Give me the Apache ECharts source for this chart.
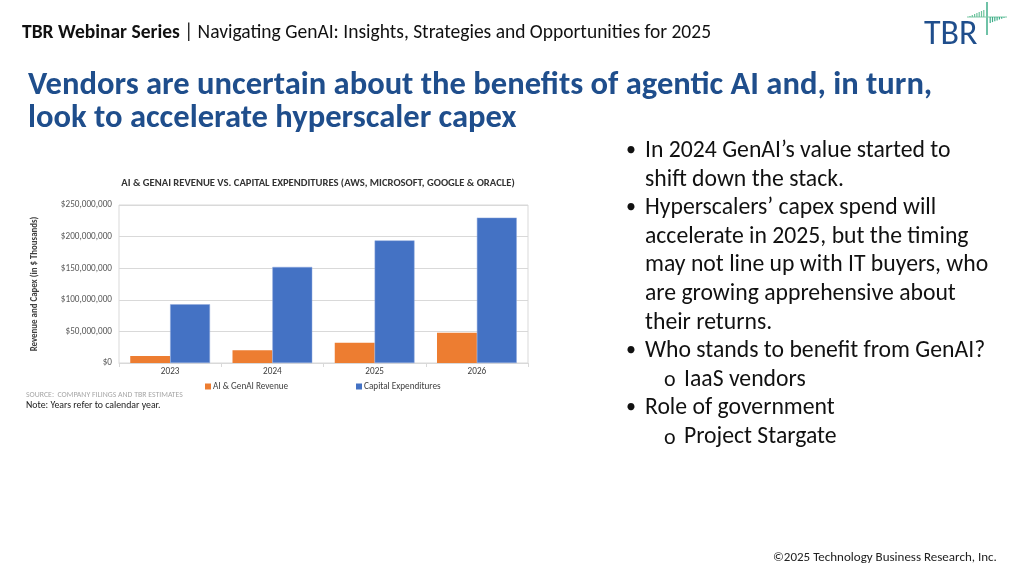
<!DOCTYPE html>
<html>
<head>
<meta charset="utf-8">
<script src="https://cdn.jsdelivr.net/npm/echarts@6/dist/echarts.min.js"></script>
<style>
html,body{margin:0;padding:0;background:#fff;}
#c{width:1030px;height:579px;}
</style>
</head>
<body>
<div id="c"></div>
<script>
const categories = ['2023', '2024', '2025', '2026'];
const revenue = [11000000, 20000000, 32000000, 48000000];
const capex = [93000000, 152000000, 194000000, 230000000];
const seriesNames = ['AI & GenAI Revenue', 'Capital Expenditures'];
const chartTitle = 'AI & GENAI REVENUE VS. CAPITAL EXPENDITURES (AWS, MICROSOFT, GOOGLE & ORACLE)';
const yAxisName = 'Revenue and Capex (in $ Thousands)';
const bullets = [
  {lvl: 1, lines: ['In 2024 GenAI\u2019s value started to', 'shift down the stack.']},
  {lvl: 1, lines: ['Hyperscalers\u2019 capex spend will', 'accelerate in 2025, but the timing', 'may not line up with IT buyers, who', 'are growing apprehensive about', 'their returns.']},
  {lvl: 1, lines: ['Who stands to benefit from GenAI?']},
  {lvl: 2, lines: ['IaaS vendors']},
  {lvl: 1, lines: ['Role of government']},
  {lvl: 2, lines: ['Project Stargate']}
];

const F = "Carlito, 'Liberation Sans Narrow', 'DejaVu Sans Condensed', 'Noto Sans', sans-serif";
const blue = '#1F4E8C';

const g = [];
// header
g.push({type: 'text', x: 22, y: 33, style: {
  text: '{b|TBR Webinar Series} | Navigating GenAI: Insights, Strategies and Opportunities for 2025',
  font: '19.5px ' + F, fill: '#111', textVerticalAlign: 'middle',
  rich: {b: {fontWeight: 'bold', fontSize: 19.5, fontFamily: F, fill: '#111'}}
}});
// logo
g.push({type: 'text', x: 924, y: 35, style: {text: 'TBR', font: '34px ' + F, fill: blue, textVerticalAlign: 'middle'}});
g.push({type: 'line', shape: {x1: 987, y1: 2, x2: 987, y2: 35}, style: {stroke: '#3fae8a', lineWidth: 1.5}});
g.push({type: 'line', shape: {x1: 967, y1: 17, x2: 1007, y2: 17}, style: {stroke: '#7fcaa8', lineWidth: 1}});
const lh = [1, 2, 3, 4, 5, 6, 7];
lh.forEach((h, i) => {
  g.push({type: 'line', shape: {x1: 970 + i * 2.3, y1: 17, x2: 970 + i * 2.3, y2: 17 - h}, style: {stroke: '#6cc29c', lineWidth: 1.2}});
  g.push({type: 'line', shape: {x1: 1004 - i * 2.3, y1: 17, x2: 1004 - i * 2.3, y2: 17 + h * 0.85}, style: {stroke: '#3fae8a', lineWidth: 1.2}});
});
// title
g.push({type: 'text', x: 28, y: 86, style: {text: 'Vendors are uncertain about the benefits of agentic AI and, in turn,', font: 'bold 32.6px ' + F, fill: blue, textVerticalAlign: 'middle'}});
g.push({type: 'text', x: 28, y: 119, style: {text: 'look to accelerate hyperscaler capex', font: 'bold 32.6px ' + F, fill: blue, textVerticalAlign: 'middle'}});
// bullets
let y = 151;
bullets.forEach(b => {
  b.lines.forEach((ln, i) => {
    if (i === 0) {
      if (b.lvl === 1) {
        g.push({type: 'text', x: 626, y: y, style: {text: '\u2022', font: '20px ' + F, fill: '#111', textVerticalAlign: 'middle'}});
      } else {
        g.push({type: 'text', x: 664, y: y + 1, style: {text: 'o', font: '22px ' + F, fill: '#111', textVerticalAlign: 'middle'}});
      }
    }
    g.push({type: 'text', x: b.lvl === 1 ? 645 : 684, y: y, style: {text: ln, font: '23.7px ' + F, fill: '#111', textVerticalAlign: 'middle'}});
    y += 28.6;
  });
});
// source & note
g.push({type: 'text', x: 26, y: 395, style: {text: 'SOURCE:  COMPANY FILINGS AND TBR ESTIMATES', font: '7.8px ' + F, fill: '#a6a6a6', textVerticalAlign: 'middle'}});
g.push({type: 'text', x: 26, y: 406, style: {text: 'Note: Years refer to calendar year.', font: '9.8px ' + F, fill: '#222', textVerticalAlign: 'middle'}});
// copyright
g.push({type: 'text', x: 773, y: 558, style: {text: '\u00A92025 Technology Business Research, Inc.', font: '13px ' + F, fill: '#222', textVerticalAlign: 'middle'}});
// chart title
g.push({type: 'text', x: 318, y: 183, style: {text: chartTitle, font: 'bold 10.6px ' + F, fill: '#333', textAlign: 'center', textVerticalAlign: 'middle'}});

const chart = echarts.init(document.getElementById('c'), null, {renderer: 'canvas'});
chart.setOption({
  animation: false,
  textStyle: {fontFamily: F},
  grid: {left: 119, top: 205, right: 502, bottom: 216, show: true, borderColor: '#d9d9d9', borderWidth: 1},
  legend: [
    {data: [seriesNames[0]], left: 200, top: 377, itemWidth: 6, itemHeight: 6, itemGap: 4, icon: 'rect',
     itemStyle: {borderWidth: 0},
     textStyle: {fontSize: 9.2, color: '#404040', fontFamily: F, padding: [0, 0, 0, -3]}},
    {data: [seriesNames[1]], left: 351, top: 377, itemWidth: 6, itemHeight: 6, itemGap: 4, icon: 'rect',
     itemStyle: {borderWidth: 0},
     textStyle: {fontSize: 9.2, color: '#404040', fontFamily: F, padding: [0, 0, 0, -3]}}
  ],
  xAxis: {
    type: 'category', data: categories,
    axisLine: {lineStyle: {color: '#d9d9d9'}},
    axisTick: {show: true, alignWithLabel: false, length: 4, lineStyle: {color: '#d9d9d9'}},
    axisLabel: {fontSize: 9.2, color: '#404040', margin: 4, fontFamily: F}
  },
  yAxis: {
    type: 'value', min: 0, max: 250000000, interval: 50000000,
    name: yAxisName, nameLocation: 'middle', nameGap: 80, nameRotate: 90,
    nameTextStyle: {fontSize: 8.9, fontWeight: 'bold', color: '#404040', fontFamily: F},
    axisLine: {show: false}, axisTick: {show: false},
    splitLine: {lineStyle: {color: '#d9d9d9'}},
    axisLabel: {fontSize: 9.2, color: '#595959', margin: 7, fontFamily: F,
      formatter: v => '$' + v.toLocaleString('en-US')}
  },
  series: [
    {name: seriesNames[0], type: 'bar', data: revenue, barGap: '0%', barCategoryGap: '22%',
     itemStyle: {color: '#ED7D31'}},
    {name: seriesNames[1], type: 'bar', data: capex, barGap: '0%', barCategoryGap: '22%',
     itemStyle: {color: '#4472C4', borderColor: '#8fa9dc', borderWidth: 0.5}}
  ],
  graphic: g
});
</script>
</body>
</html>
